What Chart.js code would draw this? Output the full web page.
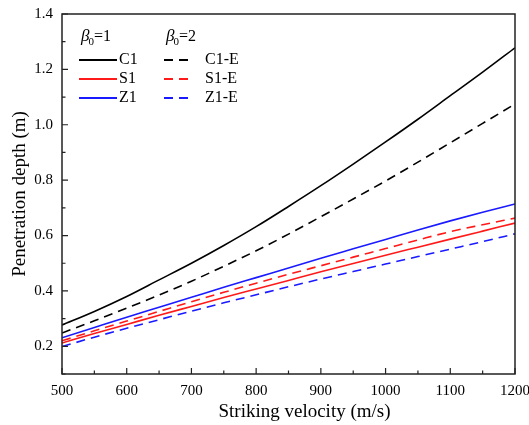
<!DOCTYPE html>
<html>
<head>
<meta charset="utf-8">
<script src="https://cdn.jsdelivr.net/npm/chart.js@4.4.1/dist/chart.umd.min.js"></script>
<style>
  html, body { margin: 0; padding: 0; background: #fff; }
  #wrap { width: 529px; height: 425px; }
</style>
</head>
<body>
<div id="wrap"><canvas id="depthChart"></canvas></div>
<script>
// striking velocity (m/s)
var velocity = [500, 550, 600, 650, 700, 750, 800, 850, 900, 950, 1000, 1050, 1100, 1150, 1200];

// penetration depth (m), beta0 = 1
var c1 = [0.277, 0.326, 0.380, 0.440, 0.500, 0.564, 0.632, 0.705, 0.780, 0.858, 0.938, 1.020, 1.105, 1.190, 1.278];
var s1 = [0.212, 0.246, 0.279, 0.312, 0.344, 0.376, 0.407, 0.438, 0.469, 0.499, 0.529, 0.558, 0.587, 0.616, 0.645];
var z1 = [0.231, 0.268, 0.305, 0.341, 0.377, 0.413, 0.448, 0.483, 0.518, 0.552, 0.586, 0.620, 0.653, 0.684, 0.714];

// penetration depth (m), beta0 = 2
var c1e = [0.248, 0.292, 0.338, 0.385, 0.435, 0.489, 0.545, 0.605, 0.668, 0.732, 0.797, 0.865, 0.935, 1.005, 1.075];
var s1e = [0.220, 0.256, 0.291, 0.326, 0.361, 0.395, 0.428, 0.460, 0.491, 0.522, 0.553, 0.584, 0.614, 0.639, 0.663];
var z1e = [0.199, 0.233, 0.265, 0.296, 0.327, 0.357, 0.386, 0.415, 0.443, 0.470, 0.497, 0.524, 0.551, 0.578, 0.606];

var xTicks = [500, 600, 700, 800, 900, 1000, 1100, 1200];
var yTicks = [0.2, 0.4, 0.6, 0.8, 1.0, 1.2, 1.4];

var serif = "'Liberation Serif', 'Times New Roman', serif";
var dash = [9, 6];

function pts(ys) {
    return velocity.map(function (v, i) { return { x: v, y: ys[i] }; });
}

function line(label, ys, color, dashed) {
    return {
        label: label,
        data: pts(ys),
        borderColor: color,
        backgroundColor: color,
        borderWidth: 1.6,
        borderDash: dashed ? dash : [],
        pointRadius: 0,
        cubicInterpolationMode: 'monotone',
        fill: false
    };
}

// frame + inward ticks (major and minor) + x axis title
var framePlugin = {
    id: 'frame',
    afterDraw: function (chart) {
        var ctx = chart.ctx, a = chart.chartArea;
        var xs = chart.scales.x, ys = chart.scales.y;
        ctx.save();
        ctx.strokeStyle = '#222';
        ctx.lineWidth = 1.5;
        ctx.strokeRect(a.left, a.top, a.right - a.left, a.bottom - a.top);
        ctx.lineWidth = 1.2;
        ctx.beginPath();
        for (var v = 500; v <= 1200; v += 50) {
            var px = xs.getPixelForValue(v);
            var len = (v % 100 === 0) ? 6 : 3.5;
            ctx.moveTo(px, a.bottom);
            ctx.lineTo(px, a.bottom - len);
        }
        for (var k = 1; k <= 14; k++) {
            var py = ys.getPixelForValue(k / 10);
            var l2 = (k % 2 === 0) ? 6 : 3.5;
            ctx.moveTo(a.left, py);
            ctx.lineTo(a.left + l2, py);
        }
        ctx.stroke();

        // x title sits a bit right of centre in the original
        ctx.fillStyle = '#000';
        ctx.font = '19px ' + serif;
        ctx.textAlign = 'center';
        ctx.textBaseline = 'alphabetic';
        ctx.fillText('Striking velocity (m/s)', (a.left + a.right) / 2 + 16, 417);
        ctx.restore();
    }
};

// two-column legend with beta0 headers
var legendPlugin = {
    id: 'twoColLegend',
    afterDraw: function (chart) {
        var ctx = chart.ctx, a = chart.chartArea;
        var ds = chart.data.datasets;
        var cols = [
            { x: a.left + 19, lineW: 38, textX: a.left + 57, head: '1', items: [0, 1, 2] },
            { x: a.left + 104, lineW: 28, textX: a.left + 143, head: '2', items: [3, 4, 5] }
        ];
        var rowY = [a.top + 46, a.top + 65, a.top + 84];
        ctx.save();
        cols.forEach(function (c) {
            // header: beta_0 = n
            var hy = a.top + 23;
            ctx.fillStyle = '#000';
            ctx.textBaseline = 'middle';
            ctx.textAlign = 'left';
            ctx.font = 'italic 17px ' + serif;
            ctx.fillText('\u03b2', c.x, hy);
            var bw = ctx.measureText('\u03b2').width;
            ctx.font = '11px ' + serif;
            ctx.fillText('0', c.x + bw - 1, hy + 5);
            var zw = ctx.measureText('0').width;
            ctx.font = '16px ' + serif;
            ctx.fillText('=' + c.head, c.x + bw + zw - 1, hy);

            c.items.forEach(function (idx, r) {
                var d = ds[idx];
                ctx.strokeStyle = d.borderColor;
                ctx.lineWidth = 1.8;
                ctx.setLineDash(d.borderDash || []);
                ctx.beginPath();
                ctx.moveTo(c.x - 2, rowY[r]);
                ctx.lineTo(c.x - 2 + c.lineW, rowY[r]);
                ctx.stroke();
                ctx.setLineDash([]);
                ctx.fillStyle = '#000';
                ctx.font = '16px ' + serif;
                ctx.fillText(d.label, c.textX, rowY[r]);
            });
        });
        ctx.restore();
    }
};

var ctx = document.getElementById('depthChart').getContext('2d');
var depthChart = new Chart(ctx, {
    type: 'line',
    data: {
        datasets: [
            line('C1', c1, '#000000', false),
            line('S1', s1, '#ff1a1a', false),
            line('Z1', z1, '#1a1aff', false),
            line('C1-E', c1e, '#000000', true),
            line('S1-E', s1e, '#ff1a1a', true),
            line('Z1-E', z1e, '#1a1aff', true)
        ]
    },
    options: {
        responsive: true,
        maintainAspectRatio: false,
        animation: false,
        layout: { padding: { top: 14, right: 14, left: 0, bottom: 0 } },
        plugins: { legend: { display: false }, tooltip: { enabled: false } },
        scales: {
            x: {
                type: 'linear',
                min: 500,
                max: 1200,
                grid: { display: false, drawTicks: false },
                border: { display: false },
                afterBuildTicks: function (s) {
                    s.ticks = xTicks.map(function (v) { return { value: v }; });
                },
                afterFit: function (s) {
                    s.paddingLeft = 0;
                    s.paddingRight = 0;
                    s.height = 51;
                },
                ticks: {
                    color: '#000',
                    padding: 8,
                    maxRotation: 0,
                    font: { family: serif, size: 15 },
                    callback: function (v) { return String(v); }
                },
                title: { display: false }
            },
            y: {
                type: 'linear',
                min: 0.1,
                max: 1.4,
                grid: { display: false, drawTicks: false },
                border: { display: false },
                afterBuildTicks: function (s) {
                    s.ticks = yTicks.map(function (v) { return { value: v }; });
                },
                afterFit: function (s) {
                    s.width = 62;
                    s.paddingTop = 0;
                    s.paddingBottom = 0;
                },
                ticks: {
                    color: '#000',
                    padding: 9,
                    font: { family: serif, size: 15 },
                    callback: function (v) { return Number(v).toFixed(1); }
                },
                title: {
                    display: true,
                    text: 'Penetration depth (m)',
                    color: '#000',
                    font: { family: serif, size: 19 },
                    padding: { top: 9, bottom: 0 }
                }
            }
        }
    },
    plugins: [framePlugin, legendPlugin]
});
</script>
</body>
</html>
